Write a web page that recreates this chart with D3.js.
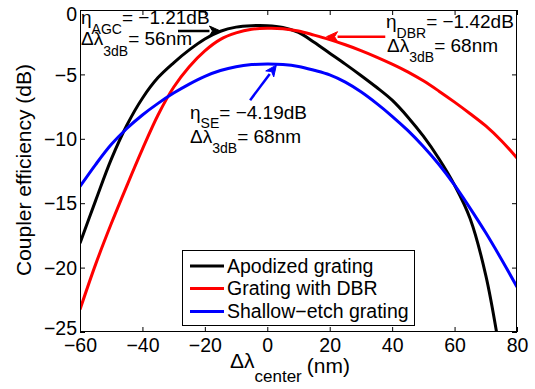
<!DOCTYPE html>
<html><head><meta charset="utf-8">
<script src="https://cdn.jsdelivr.net/npm/d3@7"></script>
<style>body{margin:0;background:#fff} svg text{font-family:"Liberation Sans",Arial,Helvetica,sans-serif;fill:#000}</style>
</head><body><svg id="c" width="535" height="389"></svg>
<script>
// ---- data ----
const xTicks = [-60, -40, -20, 0, 20, 40, 60, 80];
const yTicks = [0, -5, -10, -15, -20, -25];
const xGrid = [-60,-55,-50,-45,-40,-35,-30,-25,-20,-15,-10,-5,0,5,10,15,20,25,30,35,40,45,50,55,60,65,70,75,80];
const xApod = [-60,-55,-50,-45,-40,-35,-30,-25,-20,-15,-10,-5,0,5,10,15,20,25,30,35,40,45,50,55,60,65,70,74];
const apodized = [-18.1,-14.8,-11.6,-8.95,-6.85,-5.25,-4.1,-3.1,-2.25,-1.65,-1.33,-1.22,-1.22,-1.36,-1.74,-2.5,-3.35,-4.2,-5.08,-6.0,-7.0,-8.3,-9.8,-11.55,-13.6,-16.2,-20.6,-25.8];
const dbr = [-23.25,-19.75,-16.6,-13.65,-10.8,-8.15,-6.0,-4.4,-3.17,-2.28,-1.78,-1.5,-1.42,-1.45,-1.63,-1.95,-2.3,-2.7,-3.15,-3.65,-4.2,-4.8,-5.5,-6.3,-7.15,-8.05,-9.0,-10.15,-11.5];
const shallow = [-13.7,-12.0,-10.45,-9.2,-8.15,-7.25,-6.45,-5.75,-5.15,-4.7,-4.4,-4.24,-4.19,-4.23,-4.38,-4.68,-5.04,-5.6,-6.35,-7.25,-8.25,-9.35,-10.6,-12.0,-13.6,-15.4,-17.3,-19.35,-21.5];
const seriesNames = ["Apodized grating", "Grating with DBR", "Shallow\u2212etch grating"];
const seriesColors = ["#000000", "#ff0000", "#0000ff"];

// ---- layout ----
const L = 80, R = 517, T = 10, B = 332;
const svg = d3.select("#c");
const x = d3.scaleLinear().domain([-60, 80]).range([L, R]);
const y = d3.scaleLinear().domain([-25, 0]).range([B, T]);
const FONT = '"Liberation Sans",Arial,Helvetica,sans-serif';

svg.append("defs").append("clipPath").attr("id", "clip")
  .append("rect").attr("x", L).attr("y", T).attr("width", R - L).attr("height", B - T);

// axes
const fmt = d3.format("d");
const gB = svg.append("g").attr("transform", `translate(0,${B})`)
  .call(d3.axisBottom(x).tickValues(xTicks).tickSize(-5).tickPadding(6).tickFormat(fmt));
const gL = svg.append("g").attr("transform", `translate(${L},0)`)
  .call(d3.axisLeft(y).tickValues(yTicks).tickSize(-5).tickPadding(3).tickFormat(fmt));
const gT = svg.append("g").attr("transform", `translate(0,${T})`)
  .call(d3.axisTop(x).tickValues(xTicks).tickSize(-5).tickFormat(""));
const gR = svg.append("g").attr("transform", `translate(${R},0)`)
  .call(d3.axisRight(y).tickValues(yTicks).tickSize(-5).tickFormat(""));
[gB, gL, gT, gR].forEach(g => {
  g.attr("font-size", 19.5).attr("font-family", FONT);
  g.select(".domain").remove();
  g.selectAll(".tick line").attr("stroke", "#000").attr("stroke-width", 1);
});
gL.selectAll(".tick text").attr("dy", d => d === 0 ? "0.52em" : (d === -25 ? "0.15em" : "0.34em"));

// curves
const line = d3.line().x(d => x(d[0])).y(d => y(d[1])).curve(d3.curveCatmullRom.alpha(0.5));
const series = [
  {xs: xApod, ys: apodized},
  {xs: xGrid, ys: dbr},
  {xs: xGrid, ys: shallow}
];
const gC = svg.append("g").attr("clip-path", "url(#clip)");
series.forEach((s, i) => {
  gC.append("path").datum(s.xs.map((v, k) => [v, s.ys[k]]))
    .attr("d", line).attr("fill", "none")
    .attr("stroke", seriesColors[i]).attr("stroke-width", 3)
    .attr("stroke-linejoin", "round");
});

// frame
svg.append("rect").attr("x", L + 0.5).attr("y", T + 0.5)
  .attr("width", R - L - 1).attr("height", B - T - 1)
  .attr("fill", "none").attr("stroke", "#000").attr("stroke-width", 1);

// annotation arrows (data coordinates)
const arrows = [
  {from: [-28.6, -1.63], to: [-15.0, -1.63], color: "#000"},
  {from: [37.8, -2.07], to: [19.0, -2.07], color: "#ff0000"},
  {from: [-5.5, -7.0], to: [2.9, -4.28], color: "#0000ff"}
];
arrows.forEach(a => {
  const x1 = x(a.from[0]), y1 = y(a.from[1]), x2 = x(a.to[0]), y2 = y(a.to[1]);
  const ang = Math.atan2(y2 - y1, x2 - x1), hl = 11, hw = 5;
  const bx = x2 - hl * Math.cos(ang), by = y2 - hl * Math.sin(ang);
  svg.append("line").attr("x1", x1).attr("y1", y1).attr("x2", bx).attr("y2", by)
    .attr("stroke", a.color).attr("stroke-width", 2.5);
  const p = [[x2, y2],
    [bx + hw * Math.sin(ang), by - hw * Math.cos(ang)],
    [bx + 3 * Math.cos(ang), by + 3 * Math.sin(ang)],
    [bx - hw * Math.sin(ang), by + hw * Math.cos(ang)]];
  svg.append("path").attr("d", "M" + p.map(q => q.join(",")).join("L") + "Z")
    .attr("fill", a.color).attr("stroke", a.color).attr("stroke-width", 1);
});

// annotation texts
function subText(px, py, main, sub, rest, fs, sfs, shift) {
  const t = svg.append("text").attr("x", px).attr("y", py).attr("font-size", fs);
  t.append("tspan").text(main);
  t.append("tspan").attr("font-size", sfs).attr("dy", shift).text(sub);
  t.append("tspan").attr("dy", -shift).text(rest);
  return t;
}
subText(81, 24, "\u03b7", "AGC", "= \u22121.21dB", 19, 14, 10);
subText(81, 45, "\u0394\u03bb", "3dB", "= 56nm", 19, 14, 11);
subText(386, 28, "\u03b7", "DBR", "= \u22121.42dB", 19, 14, 10);
subText(387, 52, "\u0394\u03bb", "3dB", "= 68nm", 19, 14, 10);
subText(190, 119, "\u03b7", "SE", "= \u22124.19dB", 19, 14, 9);
subText(190, 143, "\u0394\u03bb", "3dB", "= 68nm", 19, 14, 10);

// axis labels
const xl = svg.append("text").attr("x", 230).attr("y", 368).attr("font-size", 21);
xl.append("tspan").text("\u0394\u03bb");
xl.append("tspan").attr("font-size", 17).attr("dy", 14).text("center");
xl.append("tspan").attr("dy", -9).attr("dx", 5).text("(nm)");

svg.append("text").attr("transform", "translate(31,170) rotate(-90)")
  .attr("text-anchor", "middle").attr("font-size", 21).text("Coupler efficiency (dB)");

// legend
const lg = svg.append("g");
lg.append("rect").attr("x", 182.5).attr("y", 250.5).attr("width", 232).attr("height", 75)
  .attr("fill", "#fff").attr("stroke", "#000").attr("stroke-width", 1);
const rowY = [266, 288.5, 311.5];
seriesNames.forEach((n, i) => {
  lg.append("line").attr("x1", 190).attr("x2", 224).attr("y1", rowY[i]).attr("y2", rowY[i])
    .attr("stroke", seriesColors[i]).attr("stroke-width", 3);
  lg.append("text").attr("x", 227).attr("y", rowY[i] + 6.5).attr("font-size", 19.5).text(n);
});
</script></body></html>
